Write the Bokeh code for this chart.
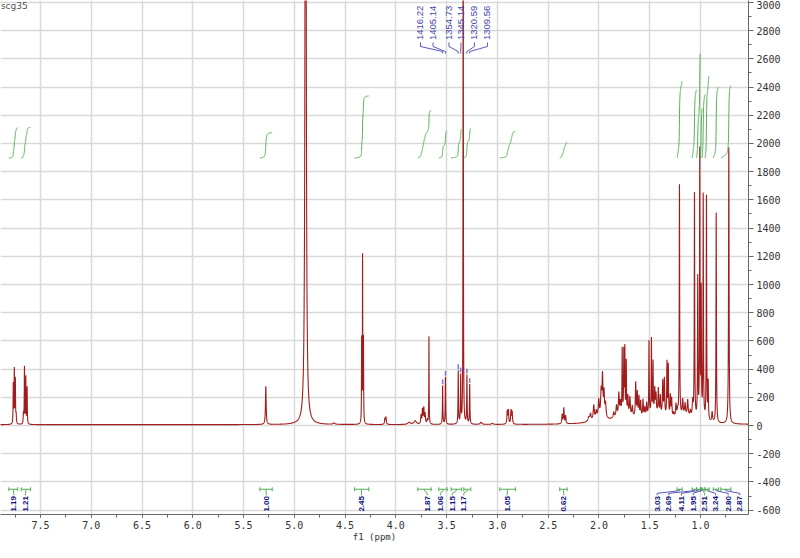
import numpy as np
from bokeh.plotting import figure
from bokeh.models import Range1d, SingleIntervalTicker, PrintfTickFormatter
from bokeh.core.properties import value
from bokeh.embed import file_html
from bokeh.resources import INLINE

# ---------------- data ----------------
# compound peaks: position (ppm), height (intensity), half width (ppm)
peak_ppm = [7.768, 7.758, 7.748, 7.740, 7.668, 7.658, 7.645, 7.632,
            5.281, 4.61, 4.337, 4.328, 4.319, 4.108, 4.098, 3.87, 3.81,
            3.752, 3.738, 3.725, 3.712, 3.69, 3.674,
            3.5394, 3.5117, 3.3857, 3.3617, 3.3004, 3.2729, 3.16, 3.05,
            2.903, 2.892, 2.866, 2.855, 2.362, 2.346, 2.328,
            2.10, 2.083, 2.051, 2.027, 2.002, 1.978, 1.965, 1.950, 1.935,
            1.854, 1.827, 1.804, 1.788, 1.771, 1.755, 1.745, 1.731, 1.715, 1.695, 1.671,
            1.638, 1.622, 1.606, 1.589, 1.566, 1.548, 1.530,
            1.507, 1.483, 1.467, 1.450, 1.438, 1.415, 1.396, 1.372, 1.356, 1.330, 1.317,
            1.297, 1.284, 1.264, 1.241, 1.225, 1.207,
            1.175, 1.152, 1.126, 1.100, 1.077, 1.059, 1.027, 1.007, 0.993, 0.973, 0.941,
            0.924, 0.885, 0.845, 0.721,
            1.75, 1.45, 1.15, 2.0]
peak_height = [280, 380, 310, 60, 70, 400, 330, 260,
               270, 10, 580, 1170, 585, 40, 50, 15, 25,
               60, 100, 110, 70, 30, 620,
               275, 335, 375, 335, 340, 280, 15, 8,
               90, 95, 95, 85, 65, 110, 55,
               30, 45, 100, 50, 120, 180, 280, 170, 100,
               40, 80, 160, 90, 460, 440, 460, 370, 130, 130, 70,
               240, 170, 140, 110, 120, 60, 90,
               520, 530, 360, 170, 130, 180, 130, 240, 260, 380, 360,
               150, 130, 30, 90, 40, 1640,
               110, 80, 110, 40, 110, 1590, 990, 1890, 890, 1590, 1590,
               270, 70, 1490, 1960,
               50, 60, 50, 30]
peak_hwhm = [0.0022, 0.0022, 0.0022, 0.003, 0.003, 0.0022, 0.0022, 0.0022,
             0.004, 0.01, 0.0018, 0.0018, 0.0018, 0.004, 0.004, 0.015, 0.015,
             0.004, 0.004, 0.004, 0.004, 0.005, 0.0018,
             0.0025, 0.0025, 0.0025, 0.0025, 0.0025, 0.0025, 0.01, 0.01,
             0.004, 0.004, 0.004, 0.004, 0.004, 0.004, 0.004,
             0.01, 0.006, 0.006, 0.006, 0.006, 0.006, 0.005, 0.005, 0.006,
             0.006, 0.006, 0.005, 0.005, 0.0025, 0.0025, 0.0025, 0.0025, 0.004, 0.005, 0.005,
             0.004, 0.004, 0.004, 0.004, 0.004, 0.004, 0.004,
             0.0025, 0.0025, 0.0025, 0.004, 0.004, 0.004, 0.004, 0.004, 0.004, 0.003, 0.003,
             0.004, 0.004, 0.005, 0.005, 0.005, 0.0025,
             0.005, 0.005, 0.005, 0.005, 0.005, 0.0025, 0.0025, 0.0025, 0.0025, 0.0025, 0.0025,
             0.003, 0.005, 0.0025, 0.003,
             0.12, 0.12, 0.10, 0.08]

# solvent / water peaks (not integrated)
solvent_ppm = [4.889, 3.337]
solvent_height = [8000, 6000]
solvent_hwhm = [0.005, 0.0015]
baseline_level = 6.0

# integrals
integral_labels = ["1.19", "1.21", "1.00", "2.45", "1.87", "1.06", "1.15", "1.17", "1.05", "0.62",
                   "3.03", "2.69", "4.11", "1.95", "2.51", "3.24", "2.80", "2.87"]
integral_from = [7.812, 7.690, 5.340, 4.408, 3.784, 3.577, 3.456, 3.331, 2.977, 2.386,
                 1.230, 1.082, 1.040, 1.000, 0.985, 0.955, 0.875, 0.800]
integral_to = [7.724, 7.598, 5.218, 4.267, 3.652, 3.495, 3.352, 3.262, 2.822, 2.313,
               1.181, 1.040, 1.002, 0.985, 0.955, 0.915, 0.822, 0.700]
integral_label_ppm = [7.763, 7.648, 5.277, 4.339, 3.692, 3.561, 3.445, 3.331, 2.904, 2.346,
                      1.427, 1.312, 1.187, 1.072, 0.961, 0.852, 0.727, 0.613]

# picked peaks (Hz labels)
peak_label_text = ["1416.22", "1405.14", "1354.73", "1345.14", "1320.59", "1309.56"]
peak_label_ppm = [3.5394, 3.5117, 3.3857, 3.3617, 3.3004, 3.2729]
peak_label_pos = [3.758, 3.634, 3.477, 3.359, 3.226, 3.098]

x_ticks_step = 0.5
y_ticks_step = 200
title_text = "scg35"
x_label = "f1 (ppm)"

# ---------------- build spectrum ----------------
def lor(xx, c, h, w):
    return h / (1.0 + ((xx - c) / w) ** 2)

grid = np.arange(0.50, 7.92, 0.0005)
x = np.unique(np.concatenate([grid, np.array(peak_ppm + solvent_ppm)]))[::-1]

compound = np.zeros_like(x)
for c, h, w in zip(peak_ppm, peak_height, peak_hwhm):
    compound += lor(x, c, h, w)
solvent = np.zeros_like(x)
for c, h, w in zip(solvent_ppm, solvent_height, solvent_hwhm):
    solvent += lor(x, c, h, w)
spectrum = baseline_level + compound + solvent


def spec_at(pp):
    v = baseline_level
    for c, h, w in zip(peak_ppm + solvent_ppm, peak_height + solvent_height, peak_hwhm + solvent_hwhm):
        v += lor(pp, c, h, w)
    return v

# ---------------- figure ----------------
p = figure(frame_width=748, frame_height=514,
           x_range=Range1d(7.894, 0.527), y_range=Range1d(-631, 3014),
           output_backend="svg", toolbar_location=None, y_axis_location="right",
           min_border_left=0, min_border_top=0, min_border_right=0, min_border_bottom=0,
           background_fill_color="white", border_fill_color="white")
p.outline_line_color = None

mono = "DejaVu Sans Mono"
xa = p.xaxis[0]
xa.ticker = SingleIntervalTicker(interval=x_ticks_step, num_minor_ticks=2)
xa.formatter = PrintfTickFormatter(format="%.1f")
xa.axis_label = x_label
xa.axis_label_text_font = mono
xa.axis_label_text_font_size = "9px"
xa.axis_label_text_font_style = "normal"
xa.axis_label_text_color = "#333333"
xa.axis_label_standoff = 0
xa.major_label_text_font = mono
xa.major_label_text_font_size = "10px"
xa.major_label_text_color = "#333333"
xa.major_label_standoff = 3
xa.axis_line_color = "#666666"
xa.major_tick_line_color = "#666666"
xa.minor_tick_line_color = "#666666"
xa.major_tick_in = 0
xa.major_tick_out = 3
xa.minor_tick_in = 0
xa.minor_tick_out = 3

ya = p.yaxis[0]
ya.ticker = SingleIntervalTicker(interval=y_ticks_step, num_minor_ticks=2)
ya.formatter = PrintfTickFormatter(format="%d")
ya.major_label_text_font = mono
ya.major_label_text_font_size = "10px"
ya.major_label_text_color = "#333333"
ya.major_label_standoff = 3
ya.axis_line_color = "#666666"
ya.major_tick_line_color = "#666666"
ya.minor_tick_line_color = "#666666"
ya.major_tick_in = 0
ya.major_tick_out = 5
ya.minor_tick_in = 0
ya.minor_tick_out = 3

p.xgrid.grid_line_color = "#d9d9d9"
p.xgrid.grid_line_width = 1.5
p.ygrid.grid_line_color = "#d9d9d9"
p.ygrid.grid_line_width = 1.5

# spectrum
p.line(x, spectrum, line_color="#a11d1d", line_width=1.1)

# integral curves
integral_base = 1897.0
integral_unit = 179.7
for lab, a, b in zip(integral_labels, integral_from, integral_to):
    m = (x <= a) & (x >= b)
    xs = x[m]
    ys = compound[m]
    cum = np.concatenate([[0.0], np.cumsum(0.5 * (ys[1:] + ys[:-1]) * np.abs(np.diff(xs)))])
    cum = cum / cum[-1]
    p.line(xs, integral_base + float(lab) * integral_unit * cum, line_color="#52b152", line_width=1)

# integral brackets and labels
br_y = -452
cap = 14
centers = [(a + b) / 2 for a, b in zip(integral_from, integral_to)]
p.segment(x0=integral_from, y0=[br_y] * len(centers), x1=integral_to, y1=[br_y] * len(centers),
          line_color="#4fae4f", line_width=1)
p.segment(x0=integral_from + integral_to, y0=[br_y - cap] * (2 * len(centers)),
          x1=integral_from + integral_to, y1=[br_y + cap] * (2 * len(centers)),
          line_color="#4fae4f", line_width=1)
green_xs, green_ys, blue_xs, blue_ys = [], [], [], []
for c, lx in zip(centers, integral_label_ppm):
    path_x = [c, c, lx, lx]
    path_y = [br_y, br_y - 10, br_y - 29, br_y - 43]
    if abs(c - lx) > 0.05:
        blue_xs.append(path_x)
        blue_ys.append(path_y)
    else:
        green_xs.append(path_x)
        green_ys.append(path_y)
p.multi_line(green_xs, green_ys, line_color="#4fae4f", line_width=1)
p.multi_line(blue_xs, blue_ys, line_color="#5a5ab8", line_width=1)
p.text(x=integral_label_ppm, y=[br_y - 48] * len(integral_labels), text=integral_labels,
       angle=np.pi / 2, text_align="right", text_baseline="middle",
       text_font=value("Liberation Sans"), text_font_size="8px", text_font_style="bold",
       text_color="#12127a")

# peak pick labels
p.text(x=peak_label_pos, y=[2734] * len(peak_label_text), text=peak_label_text,
       angle=np.pi / 2, text_align="left", text_baseline="middle",
       text_font=value("Liberation Sans"), text_font_size="9.5px", text_color="#4646a8")
p.multi_line([[lx, lx, px, px] for lx, px in zip(peak_label_pos, peak_label_ppm)],
             [[2716, 2688, 2652, 2638] for _ in peak_label_ppm],
             line_color="#5a5ab8", line_width=1)
tops = [spec_at(pp) for pp in peak_label_ppm]
p.segment(x0=peak_label_ppm, y0=[t + 8 for t in tops], x1=peak_label_ppm, y1=[t + 42 for t in tops],
          line_color="#7878d8", line_width=1.5)

# sample name
p.text(x=[7.890], y=[3010], text=[title_text], text_align="left", text_baseline="top",
       text_font=value("DejaVu Sans"), text_font_size="9px", text_color="#555555")

open("out.html", "w").write(file_html(p, INLINE))
